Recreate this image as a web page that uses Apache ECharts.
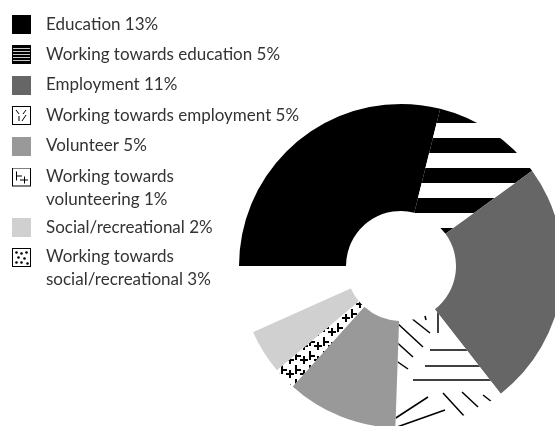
<!DOCTYPE html>
<html>
<head>
<meta charset="utf-8">
<script src="https://cdn.jsdelivr.net/npm/echarts@6/dist/echarts.min.js"></script>
<style>
  html, body { margin: 0; padding: 0; background: #fff; }
  #chart { width: 555px; height: 426px; }
</style>
</head>
<body>
<div id="chart"></div>
<script>
// Outcome categories and their shares (percent)
const categories = [
  'Education',
  'Working towards education',
  'Employment',
  'Working towards employment',
  'Volunteer',
  'Working towards volunteering',
  'Social/recreational',
  'Working towards social/recreational'
];
const shares = [13, 5, 11, 5, 5, 1, 2, 3];
// Legend wording, with line breaks for the long entries
const legendLines = [
  ['Education'],
  ['Working towards education'],
  ['Employment'],
  ['Working towards employment'],
  ['Volunteer'],
  ['Working towards', 'volunteering'],
  ['Social/recreational'],
  ['Working towards', 'social/recreational']
];

// ---------- fill textures ----------
function tile(w, h, draw) {
  const c = document.createElement('canvas');
  c.width = w; c.height = h;
  const g = c.getContext('2d');
  g.fillStyle = '#fff';
  g.fillRect(0, 0, w, h);
  draw(g);
  return c;
}
function strokeSegs(g, segs, width) {
  g.strokeStyle = '#000';
  g.lineWidth = width;
  g.lineCap = 'butt';
  segs.forEach(s => { g.beginPath(); g.moveTo(s[0], s[1]); g.lineTo(s[2], s[3]); g.stroke(); });
}

// horizontal bands
const stripeTile = tile(8, 30, g => {
  g.fillStyle = '#000';
  g.fillRect(0, 18, 8, 12);
  g.fillRect(0, 0, 8, 3);
});
// large kaleidoscope hatching
const hatchTile = tile(300, 300, g => {
  strokeSegs(g, [
    [138, 12, 138, 33],
    [125, 16, 126, 20],
    [106, 14, 130, 33],
    [96, 22, 123, 47],
    [92, 38, 113, 57],
    [92, 58, 108, 69],
    [130, 50, 220, 50],
    [125, 66, 220, 66],
    [113, 80, 220, 80],
    [143, 93, 165, 117],
    [162, 92, 178, 107],
    [183, 95, 192, 102],
    [85, 125, 128, 97],
    [80, 133, 145, 110]
  ], 1.5);
});
// tee-and-cross marks
const crossTile = tile(14, 14, g => {
  g.fillStyle = '#000';
  g.fillRect(1, 1, 2, 9);
  g.fillRect(1, 5, 6, 2);
  g.fillRect(9, 6, 2, 8);
  g.fillRect(6, 9, 8, 2);
});
// sparse dots
const dotTile = tile(300, 300, g => {
  g.fillStyle = '#000';
  [[150, 150], [200, 80], [120, 230], [230, 200]].forEach(p => {
    g.beginPath(); g.arc(p[0], p[1], 2, 0, Math.PI * 2); g.fill();
  });
});
const pat = c => ({ image: c, repeat: 'repeat' });

const fills = [
  '#000000',
  pat(stripeTile),
  '#666666',
  pat(hatchTile),
  '#999999',
  pat(crossTile),
  '#d0d0d0',
  pat(dotTile)
];

// ---------- legend icons ----------
function iconImage(h, draw) {
  const c = document.createElement('canvas');
  c.width = 29; c.height = h;
  const g = c.getContext('2d');
  draw(g);
  return 'image://' + c.toDataURL();
}
function solid(color) {
  return g => { g.fillStyle = color; g.fillRect(0, 0, 19, 19); };
}
function framed(inner) {
  return g => {
    g.fillStyle = '#fff'; g.fillRect(0, 0, 19, 19);
    inner(g);
    g.strokeStyle = '#000'; g.lineWidth = 1; g.strokeRect(0.5, 0.5, 18, 18);
  };
}
const iconDraws = [
  solid('#000'),
  framed(g => {
    g.fillStyle = '#000'; g.fillRect(1, 1, 17, 17);
    g.fillStyle = '#c8c8c8';
    for (let y = 3; y < 17; y += 3) g.fillRect(1, y, 17, 1);
  }),
  solid('#666'),
  framed(g => strokeSegs(g, [[4, 4, 7, 8], [14, 4, 11, 8], [7, 10, 7, 15], [14, 9, 10, 15]], 1)),
  solid('#999'),
  framed(g => strokeSegs(g, [[4.5, 4, 4.5, 13], [4, 8.5, 10, 8.5], [12.5, 9, 12.5, 16], [8, 12.5, 16, 12.5]], 1)),
  solid('#d0d0d0'),
  framed(g => {
    g.fillStyle = '#000';
    [[4, 4], [9, 5], [14, 4], [6, 9], [12, 10], [4, 14], [9, 14], [15, 15]].forEach(p => {
      g.beginPath(); g.arc(p[0] + 0.5, p[1] + 0.5, 1.3, 0, Math.PI * 2); g.fill();
    });
  })
];

// vertical position of each legend entry (icon centre)
const legendCentres = [24.5, 54.5, 85, 115.5, 146, 177, 227.5, 257.5];

const legends = categories.map((name, i) => {
  const lines = legendLines[i].slice();
  lines[lines.length - 1] += ' ' + shares[i] + '%';
  const twoLine = lines.length > 1;
  const h = twoLine ? 41 : 19;
  return {
    data: [{ name: name, icon: iconImage(h, iconDraws[i]) }],
    orient: 'vertical',
    left: 12,
    top: twoLine ? legendCentres[i] - 12 : legendCentres[i] - 9.5,
    padding: 0,
    itemGap: 0,
    itemWidth: 29,
    itemHeight: h,
    symbolKeepAspect: false,
    selectedMode: false,
    formatter: () => lines.join('\n'),
    textStyle: {
      fontFamily: 'Lato',
      fontSize: 17,
      color: '#333',
      lineHeight: twoLine ? 23 : 19
    }
  };
});

const chart = echarts.init(document.getElementById('chart'), null, { renderer: 'canvas' });
chart.setOption({
  animation: false,
  backgroundColor: '#fff',
  legend: legends,
  series: [{
    type: 'pie',
    center: [401, 266],
    radius: [55, 162],
    startAngle: 180,
    clockwise: true,
    silent: true,
    label: { show: false },
    labelLine: { show: false },
    emphasis: { disabled: true },
    itemStyle: { borderWidth: 0 },
    data: categories.map((name, i) => ({
      name: name,
      value: shares[i],
      itemStyle: { color: fills[i] }
    }))
  }]
});
</script>
</body>
</html>
